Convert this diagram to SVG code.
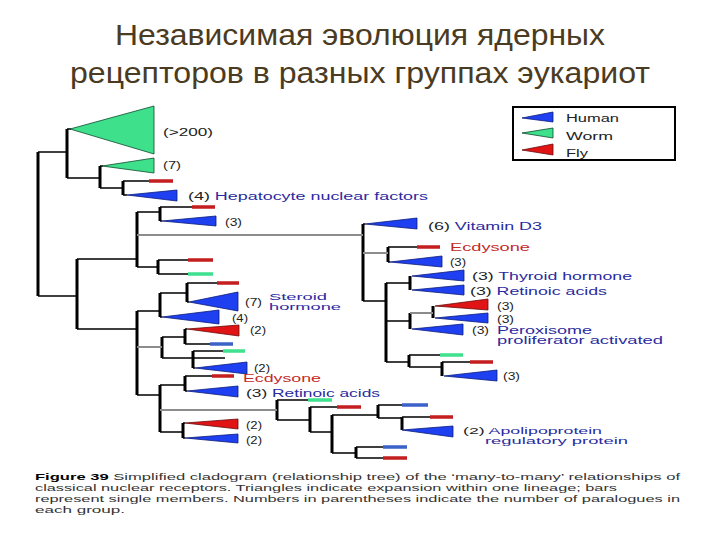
<svg xmlns="http://www.w3.org/2000/svg" width="720" height="540" viewBox="0 0 720 540">
<style>
.t{font-family:"Liberation Sans",Arial,sans-serif;font-size:10px;fill:#222}
.s{font-size:9px}
.bl{fill:#2b2ba0}
.rd{fill:#c42a2a}
.title{font-family:"Liberation Sans",Arial,sans-serif;font-size:30px;fill:#4a3b22}
.cap{font-family:"Liberation Sans",Arial,sans-serif;font-size:9.5px;fill:#333}
.v{stroke:#000;stroke-width:3;fill:none}
.h{stroke:#000;stroke-width:1.3;fill:none}
.gr{stroke:#8c8c8c;stroke-width:2;fill:none}
.br{stroke:#c41e1e;stroke-width:3.5}
.bg{stroke:#3fe08e;stroke-width:3.5}
.bb{stroke:#3a62c8;stroke-width:3.5}
.tb{fill:#1e40f0;stroke:#0b1c7a;stroke-width:0.8}
.tg{fill:#3ee08c;stroke:#0e4a2c;stroke-width:0.8}
.tr{fill:#e01414;stroke:#6a0a0a;stroke-width:0.8}
</style>
<rect width="720" height="540" fill="#fff"/>
<g id="title">
<text class="title" x="360" y="45" text-anchor="middle" textLength="490" lengthAdjust="spacingAndGlyphs">Независимая эволюция ядерных</text>
<text class="title" x="360" y="83" text-anchor="middle" textLength="580" lengthAdjust="spacingAndGlyphs">рецепторов в разных группах эукариот</text>
</g>
<g id="connectors">
<path class="v" d="M38 152V296M67 129V178M100 166V188M123 181V195M137 212V267M160 207V221M158 260V274M77 259V329M137 311V395M160 293V317M187 283V302M162 337V358M185 329V344M193 351V368M160 385V432M185 376V391M183 423V438M277 400V420M310 407V432M332 415V453M378 405V418M402 417V430M356 447V458M363 224V301M388 247V262M386 283V362M410 276V290M410 313V329M433 306V318M409 355V367M442 362V376"/>
<path class="h" d="M38 152H67M38 296H77M67 129H71M67 178H100M100 166H103M100 188H123M123 181H149M123 195H127M77 259H137M137 212H160M160 207H192M160 221H162M137 267H158M158 260H188M158 274H188M77 329H137M137 311H160M160 293H187M187 283H217M187 302H189M160 317H162M162 337H185M185 329H187M185 344H210M162 358H193M193 351H223M193 358H225M193 368H195M137 395H160M160 385H185M185 376H212M185 391H187M160 432H183M183 423H185M183 438H185M277 400H308M277 420H310M310 407H337M310 432H332M332 415H378M332 453H356M378 405H402M378 418H402M402 417H430M356 447H383M356 458H383M363 224H365M388 247H417M388 262H390M363 301H386M386 283H410M386 321H410M386 362H409M409 355H440M409 367H442M442 362H470"/>
<path class="gr" d="M137 235H363M137 347H162M160 410H277M363 253H388M410 313H433"/>
</g>
<g id="bars">
<path class="br" d="M149 181H173M192 207H215M188 260H213M217 283H239M212 376H234M337 407H361M430 417H453M383 458H407M417 247H440M470 362H493"/>
<path class="bg" d="M188 274H213M223 351H245M308 400H332M440 355H463"/>
<path class="bb" d="M210 344H233M402 405H428M383 447H407"/>
</g>
<g id="clade-gt200"><polygon class="tg" points="70,129 154,106 154,154"/><text class="t" x="163" y="136" textLength="50" lengthAdjust="spacingAndGlyphs">(&gt;200)</text></g>
<g id="clade-worm7"><polygon class="tg" points="102,166 154,158 154,173"/><text class="t" x="163" y="169" textLength="18" lengthAdjust="spacingAndGlyphs">(7)</text></g>
<g id="clade-hnf"><polygon class="tb" points="127,195 177,190 177,201"/><text class="t" x="188" y="200" textLength="240" lengthAdjust="spacingAndGlyphs">(4) <tspan class="bl">Hepatocyte nuclear factors</tspan></text></g>
<g id="clade-3a"><polygon class="tb" points="162,221 216,216 216,226"/><text class="t" x="225" y="226" textLength="17" lengthAdjust="spacingAndGlyphs">(3)</text></g>
<g id="clade-steroid"><polygon class="tb" points="189,302 238,292 238,311"/><text class="t" x="245" y="306" textLength="17" lengthAdjust="spacingAndGlyphs">(7)</text><text class="t s bl" x="269" y="300" textLength="58" lengthAdjust="spacingAndGlyphs">Steroid</text><text class="t s bl" x="269" y="310" textLength="72" lengthAdjust="spacingAndGlyphs">hormone</text></g>
<g id="clade-4"><polygon class="tb" points="162,317 219,310 219,324"/><text class="t" x="232" y="322" textLength="16" lengthAdjust="spacingAndGlyphs">(4)</text></g>
<g id="clade-2red"><polygon class="tr" points="187,329 239,325 239,336"/><text class="t" x="250" y="334" textLength="16" lengthAdjust="spacingAndGlyphs">(2)</text></g>
<g id="clade-ecd-left"><polygon class="tb" points="195,368 247,362 247,374"/><text class="t" x="254" y="372" textLength="16" lengthAdjust="spacingAndGlyphs">(2)</text><text class="t rd" x="243" y="382" textLength="78" lengthAdjust="spacingAndGlyphs">Ecdysone</text></g>
<g id="clade-ra-left"><polygon class="tb" points="187,391 238,386 238,397"/><text class="t" x="246" y="397" textLength="134" lengthAdjust="spacingAndGlyphs">(3) <tspan class="bl">Retinoic acids</tspan></text></g>
<g id="clade-2r"><polygon class="tr" points="185,423 238,419 238,429"/><text class="t" x="246" y="429" textLength="16" lengthAdjust="spacingAndGlyphs">(2)</text></g>
<g id="clade-2b"><polygon class="tb" points="185,438 238,434 238,443"/><text class="t" x="246" y="444" textLength="16" lengthAdjust="spacingAndGlyphs">(2)</text></g>
<g id="clade-apo"><polygon class="tb" points="402,430 453,426 453,437"/><text class="t s" x="463" y="434" textLength="139" lengthAdjust="spacingAndGlyphs">(2) <tspan class="bl">Apolipoprotein</tspan></text><text class="t s bl" x="485" y="444" textLength="143" lengthAdjust="spacingAndGlyphs">regulatory protein</text></g>
<g id="clade-vitd"><polygon class="tb" points="365,224 417,218 417,229"/><text class="t" x="428" y="230" textLength="114" lengthAdjust="spacingAndGlyphs">(6) <tspan class="bl">Vitamin D3</tspan></text></g>
<g id="clade-ecd-right"><text class="t rd" x="450" y="251" textLength="80" lengthAdjust="spacingAndGlyphs">Ecdysone</text></g>
<g id="clade-3b"><polygon class="tb" points="390,262 442,256 442,267"/><text class="t" x="450" y="266" textLength="16" lengthAdjust="spacingAndGlyphs">(3)</text></g>
<g id="clade-thyroid"><polygon class="tb" points="412,276 464,270 464,281"/><text class="t" x="472" y="280" textLength="160" lengthAdjust="spacingAndGlyphs">(3) <tspan class="bl">Thyroid hormone</tspan></text></g>
<g id="clade-ra-right"><polygon class="tb" points="412,290 464,285 464,295"/><text class="t" x="470" y="295" textLength="137" lengthAdjust="spacingAndGlyphs">(3) <tspan class="bl">Retinoic acids</tspan></text></g>
<g id="clade-3red"><polygon class="tr" points="435,306 488,299 488,310"/><text class="t" x="497" y="310" textLength="17" lengthAdjust="spacingAndGlyphs">(3)</text></g>
<g id="clade-3c"><polygon class="tb" points="435,318 488,313 488,323"/><text class="t" x="497" y="323" textLength="17" lengthAdjust="spacingAndGlyphs">(3)</text></g>
<g id="clade-ppar"><polygon class="tb" points="412,329 463,324 463,335"/><text class="t" x="472" y="334" textLength="17" lengthAdjust="spacingAndGlyphs">(3)</text><text class="t bl" x="497" y="334" textLength="95" lengthAdjust="spacingAndGlyphs">Peroxisome</text><text class="t bl" x="497" y="344" textLength="166" lengthAdjust="spacingAndGlyphs">proliferator activated</text></g>
<g id="clade-3d"><polygon class="tb" points="444,376 497,370 497,381"/><text class="t" x="503" y="380" textLength="17" lengthAdjust="spacingAndGlyphs">(3)</text></g>
<g id="legend">
<rect x="513" y="107" width="162" height="53" fill="#fff" stroke="#000" stroke-width="2"/>
<polygon class="tb" points="522,118 553,112 553,122"/>
<polygon class="tg" points="522,133 553,128 553,138"/>
<polygon class="tr" points="522,150 553,144 553,155"/>
<text class="t" x="566" y="122" textLength="53" lengthAdjust="spacingAndGlyphs">Human</text>
<text class="t" x="566" y="140" textLength="47" lengthAdjust="spacingAndGlyphs">Worm</text>
<text class="t" x="566" y="157" textLength="22" lengthAdjust="spacingAndGlyphs">Fly</text>
</g>
<g id="caption">
<text class="cap" x="35" y="480" textLength="645" lengthAdjust="spacingAndGlyphs"><tspan font-weight="bold" fill="#000">Figure 39</tspan> Simplified cladogram (relationship tree) of the ‘many-to-many’ relationships of</text>
<text class="cap" x="35" y="491" textLength="582" lengthAdjust="spacingAndGlyphs">classical nuclear receptors. Triangles indicate expansion within one lineage; bars</text>
<text class="cap" x="35" y="502" textLength="645" lengthAdjust="spacingAndGlyphs">represent single members. Numbers in parentheses indicate the number of paralogues in</text>
<text class="cap" x="35" y="513" textLength="90" lengthAdjust="spacingAndGlyphs">each group.</text>
</g>
</svg>
